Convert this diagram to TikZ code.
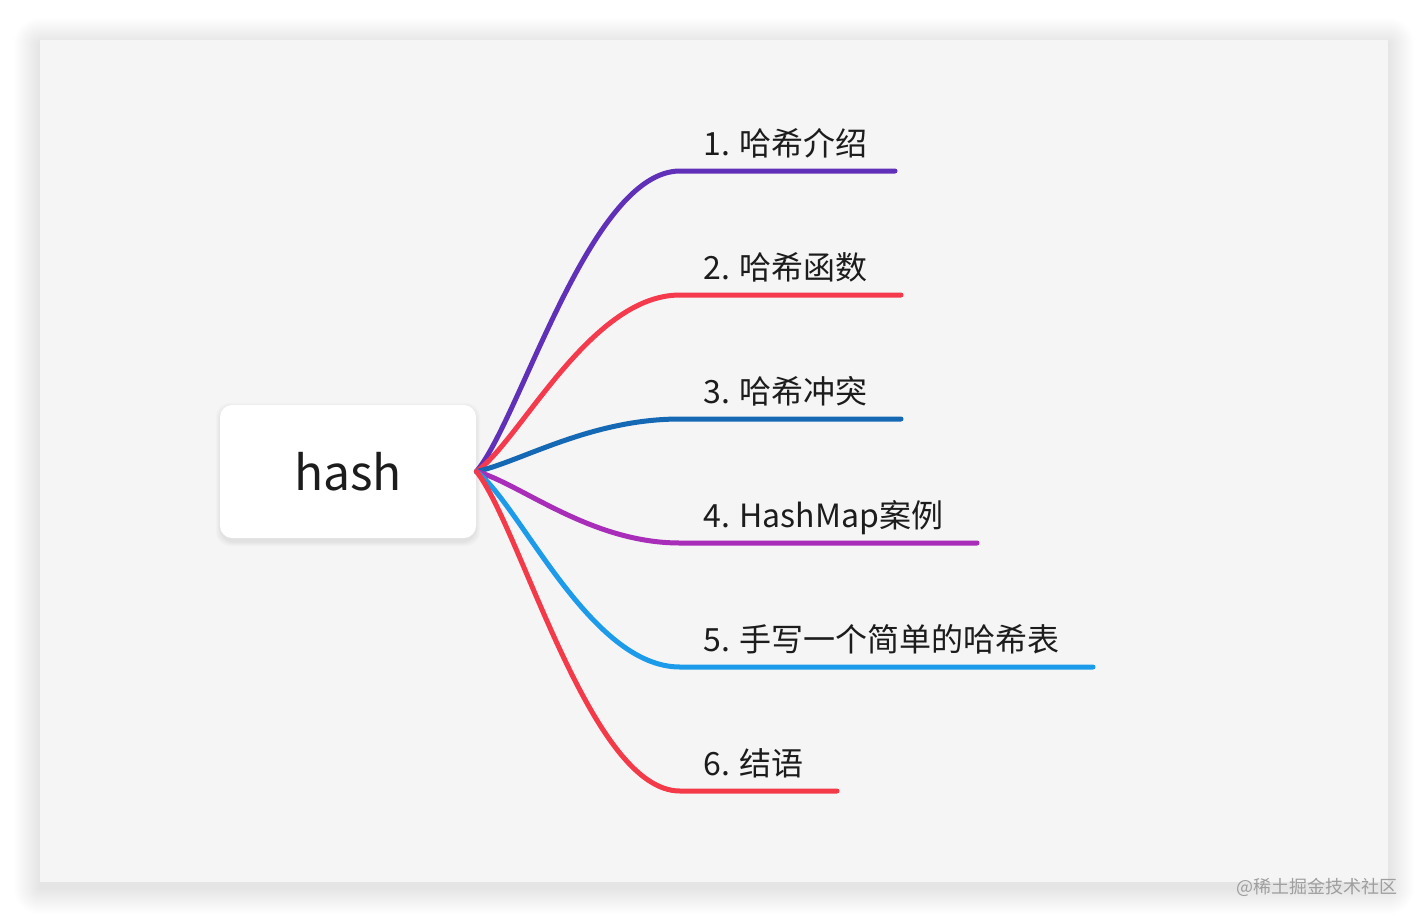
\documentclass[tikz,border=0pt]{standalone}
\usepackage{fontspec}
\newfontfamily\cjk{Noto Sans CJK SC}
\usetikzlibrary{positioning}
\definecolor{panel}{HTML}{F5F5F5}
\definecolor{inkc}{HTML}{1C1C1C}
\definecolor{cA}{HTML}{6030B8}
\definecolor{cB}{HTML}{F43A4C}
\definecolor{cC}{HTML}{1568B4}
\definecolor{cD}{HTML}{A82DB8}
\definecolor{cE}{HTML}{1C9BEA}
\definecolor{cF}{HTML}{F43A48}
\tikzset{
  branch/.style={line width=2.5pt,line cap=round},
  topic/.style={font=\cjk\fontsize{16}{20}\selectfont,text=inkc,anchor=base west,inner sep=0pt},
  rootbox/.style={fill=white,rounded corners=6pt,minimum width=128pt,minimum height=66.5pt,
    font=\cjk\fontsize{24}{28}\selectfont,text=inkc}
}
\begin{document}
\begin{tikzpicture}[x=0.5pt,y=-0.5pt]
\useasboundingbox (0,0) rectangle (1428,922);
% panel with its soft shadow
\foreach \i in {1,...,26}
  \fill[black,opacity=0.0035,rounded corners=\i*0.5pt] (40-\i,44-\i) rectangle (1388+\i,888+\i);
\fill[panel] (40,40) rectangle (1388,882);
% shadow of the root
\foreach \i in {1,...,5}
  \fill[black,opacity=0.015,rounded corners=7pt] (221-\i,408-\i) rectangle (475+\i,541+\i);
\node[rootbox] (H) at (348,471.5) {hash};
\foreach \y/\e/\c/\t [count=\k] in {171/895/cA/1. 哈希介绍, 295/901/cB/2. 哈希函数,
    419/901/cC/3. 哈希冲突, 543/977/cD/4. HashMap案例,
    667/1093/cE/5. 手写一个简单的哈希表, 791/837/cF/6. 结语}
{
  \coordinate (E\k) at (\e,\y);
  \draw[branch,\c] (H.east) .. controls (520,{471+0.17*(\y-471)}) and (590,\y) .. (680,\y) -- (E\k);
  \node[topic] (T\k) at (703,\y-16) {\t};
}
\node[font=\cjk\fontsize{9}{11}\selectfont,text=black!38,anchor=east] (W) at (1405,887) {@稀土掘金技术社区};
\end{tikzpicture}
\end{document}
